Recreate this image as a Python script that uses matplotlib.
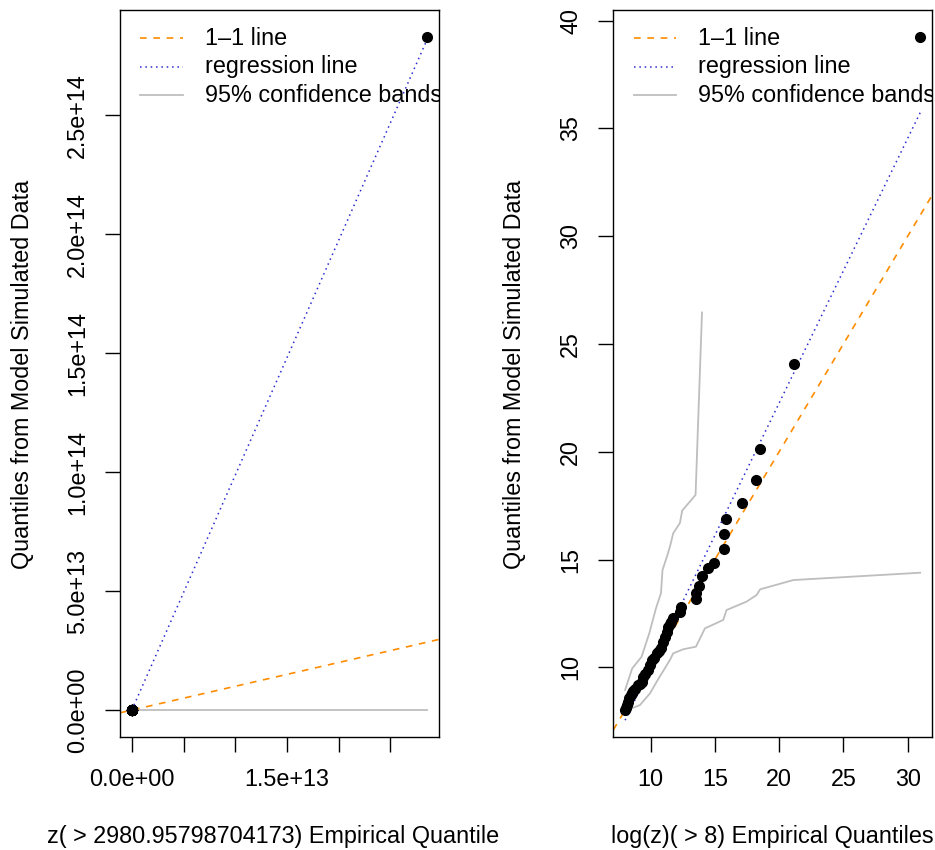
import numpy as np
import matplotlib
matplotlib.use("Agg")
import matplotlib.pyplot as plt
from matplotlib.transforms import Bbox, TransformedBbox

# right panel: log scale quantiles (sorted)
log_emp = [8.02, 8.07, 8.13, 8.22, 8.33, 8.45, 8.52, 8.65, 8.80, 9.03, 9.15,
           9.30, 9.42, 9.60, 9.81, 9.95, 10.08, 10.25, 10.47, 10.65, 10.85,
           10.93, 11.11, 11.29, 11.37, 11.50, 11.62, 11.76, 12.28, 12.38,
           13.50, 13.55, 13.74, 14.00, 14.46, 14.93, 15.71, 15.71, 15.86,
           17.09, 18.23, 18.49, 21.16, 30.97]
log_sim = [8.02, 8.10, 8.25, 8.40, 8.56, 8.70, 8.79, 8.92, 9.02, 9.18, 9.25,
           9.33, 9.56, 9.70, 9.87, 10.11, 10.34, 10.45, 10.65, 10.75, 10.88,
           11.19, 11.42, 11.65, 11.89, 12.00, 12.12, 12.27, 12.58, 12.82,
           13.16, 13.44, 13.79, 14.23, 14.60, 14.83, 15.49, 16.18, 16.87,
           17.63, 18.70, 20.11, 24.09, 39.24]
log_reg_x = [8.02, 30.97]
log_reg_y = [7.55, 35.73]
log_upper_x = [8.02, 8.57, 9.30, 9.90, 10.42, 10.81, 10.93, 11.32, 11.55, 11.76,
               12.28, 12.46, 13.50, 14.00]
log_upper_y = [8.95, 9.95, 10.49, 11.58, 12.74, 13.44, 14.52, 15.22, 15.70, 16.22,
               16.69, 17.27, 18.00, 26.46]
log_lower_x = [8.52, 9.17, 9.95, 10.47, 11.50, 11.76, 12.54, 13.53, 14.23, 15.65,
               15.91, 17.47, 18.25, 18.52, 21.10, 30.97]
log_lower_y = [8.10, 8.25, 8.79, 9.33, 10.34, 10.65, 10.84, 10.96, 11.81, 12.20,
               12.66, 13.05, 13.36, 13.62, 14.05, 14.39]

# left panel: raw scale quantiles (sorted)
raw_emp = [3.0e3, 3.2e3, 3.4e3, 3.7e3, 4.2e3, 4.7e3, 5.0e3, 5.7e3, 6.6e3, 8.3e3,
           9.4e3, 1.1e4, 1.2e4, 1.5e4, 1.8e4, 2.1e4, 2.4e4, 2.8e4, 3.5e4, 4.2e4,
           5.1e4, 5.6e4, 6.7e4, 8.0e4, 8.7e4, 9.9e4, 1.1e5, 1.3e5, 2.1e5, 2.4e5,
           7.3e5, 7.7e5, 9.2e5, 1.2e6, 1.9e6, 3.1e6, 6.7e6, 6.7e6, 7.7e6, 2.6e7,
           8.2e7, 1.1e8, 1.5e9, 2.856e13]
raw_sim = [3.0e3, 3.3e3, 3.8e3, 4.4e3, 5.2e3, 6.0e3, 6.6e3, 7.5e3, 8.3e3, 9.7e3,
           1.0e4, 1.1e4, 1.4e4, 1.6e4, 1.9e4, 2.5e4, 3.1e4, 3.4e4, 4.2e4, 4.7e4,
           5.3e4, 7.2e4, 9.1e4, 1.1e5, 1.5e5, 1.6e5, 1.8e5, 2.1e5, 2.9e5, 3.7e5,
           5.2e5, 6.9e5, 9.7e5, 1.5e6, 2.2e6, 2.7e6, 5.3e6, 1.1e7, 2.1e7, 4.5e7,
           1.3e8, 5.4e8, 2.9e10, 2.83e14]
raw_reg_x = [3.0e3, 2.856e13]
raw_reg_y = [0.0, 2.82e14]
raw_band_x = [3.0e3, 2.856e13]
raw_band_y = [0.0, 0.0]

raw_xticks = [0, 5e12, 1e13, 1.5e13, 2e13, 2.5e13]
raw_xlabels = ["0.0e+00", "", "", "1.5e+13", "", ""]
raw_yticks = [0, 5e13, 1e14, 1.5e14, 2e14, 2.5e14]
raw_ylabels = ["0.0e+00", "5.0e+13", "1.0e+14", "1.5e+14", "2.0e+14", "2.5e+14"]
log_xticks = [10, 15, 20, 25, 30]
log_yticks = [10, 15, 20, 25, 30, 35, 40]

legend_labels = ["1\u20131 line", "regression line", "95% confidence bands"]

plt.rcParams['font.family'] = ['Liberation Sans', 'DejaVu Sans']
fs = 16.8
orange = '#FF8C00'
gray = '#BEBEBE'
blue = '#2a2ad0'

fig = plt.figure(figsize=(9.35, 8.5), dpi=100)
ax1 = fig.add_axes([120/935, 113/850, 319/935, 727/850])
ax2 = fig.add_axes([613.3/935, 113/850, 318.7/935, 727/850])


def pad_range(vals, f=0.04):
    lo, hi = min(vals), max(vals)
    d = (hi - lo) * f
    return lo - d, hi + d


def draw_panel(ax, emp, sim, reg_x, reg_y, bands):
    for bx, by in bands:
        ax.plot(bx, by, color=gray, lw=1.3)
    ax.axline((0, 0), slope=1, color=orange, lw=1.2, ls=(0, (4, 4)))
    ax.plot(reg_x, reg_y, color=blue, lw=1.1, ls=(0, (1, 2.5)))
    ax.plot(emp, sim, 'o', color='black', ms=7)
    ax.set_xlim(pad_range(emp))
    ax.set_ylim(pad_range(sim))
    for s in ax.spines.values():
        s.set_linewidth(1.0)
    ax.tick_params(length=10.5, width=1.0, pad=12, labelsize=fs)
    # legend drawn by hand so that it is clipped by the plot box
    rows = [0.961, 0.922, 0.883]
    styles = [dict(color=orange, ls=(0, (4, 4)), lw=1.2),
              dict(color=blue, ls=(0, (1, 2.5)), lw=1.1),
              dict(color=gray, lw=1.3)]
    for yy, lab, st in zip(rows, legend_labels, styles):
        ax.plot([0.064, 0.198], [yy, yy], transform=ax.transAxes, **st)
        ax.text(0.266, yy, lab, transform=ax.transAxes, fontsize=fs,
                va='center', ha='left', clip_on=True)


draw_panel(ax1, raw_emp, raw_sim, raw_reg_x, raw_reg_y, [(raw_band_x, raw_band_y)])
ax1.set_xticks(raw_xticks)
ax1.set_xticklabels(raw_xlabels)
ax1.set_yticks(raw_yticks)
ax1.set_yticklabels(raw_ylabels, rotation=90, va='center')

draw_panel(ax2, log_emp, log_sim, log_reg_x, log_reg_y,
           [(log_upper_x, log_upper_y), (log_lower_x, log_lower_y)])
ax2.set_xticks(log_xticks)
ax2.set_yticks(log_yticks)
ax2.set_yticklabels([str(v) for v in log_yticks], rotation=90, va='center')

# axis titles
W, H = 935, 850
fig.text(23/W, 1 - 374/H, "Quantiles from Model Simulated Data", rotation=90,
         ha='center', va='center', fontsize=fs)
fig.text(515/W, 1 - 374/H, "Quantiles from Model Simulated Data", rotation=90,
         ha='center', va='center', fontsize=fs)
t = fig.text(47/W, 1 - 837/H, "z( > 2980.95798704173) Empirical Quantiles",
             ha='left', va='center', fontsize=fs)
t.set_clip_box(TransformedBbox(Bbox([[0, 0], [498.5/W, 1]]), fig.transFigure))
t.set_clip_on(True)
fig.text(772.7/W, 1 - 837/H, "log(z)( > 8) Empirical Quantiles",
         ha='center', va='center', fontsize=fs)

fig.savefig("out.png", dpi=100)
